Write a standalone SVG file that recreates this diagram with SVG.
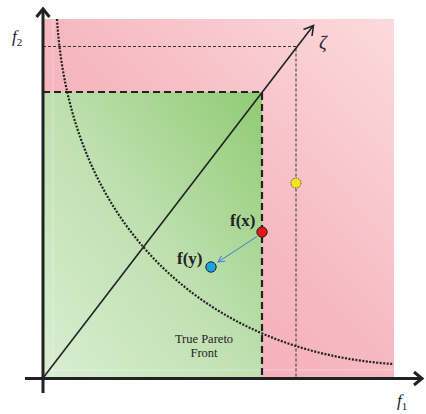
<svg xmlns="http://www.w3.org/2000/svg" width="426" height="414" viewBox="0 0 426 414">
<defs>
<linearGradient id="pink" x1="0" y1="1" x2="1" y2="0">
<stop offset="0" stop-color="#f4a6b0"/>
<stop offset="0.5" stop-color="#f6b8c0"/>
<stop offset="1" stop-color="#fbdadd"/>
</linearGradient>
<linearGradient id="green" x1="0" y1="1" x2="1" y2="0">
<stop offset="0" stop-color="#d8eed2"/>
<stop offset="0.5" stop-color="#bfe0b0"/>
<stop offset="1" stop-color="#90cb74"/>
</linearGradient>
<marker id="blueArrow" viewBox="0 0 10 10" refX="9" refY="5" markerWidth="8" markerHeight="8" orient="auto" markerUnits="userSpaceOnUse">
<path d="M1,1 L9,5 L1,9" fill="none" stroke="#3d7fd0" stroke-width="1.2"/>
</marker>
</defs>
<style>
.axis{stroke:#222;stroke-width:3;fill:none}
.head{stroke:#222;fill:none;stroke-linejoin:miter}
.bold-dash{stroke:#222;stroke-width:2.2;stroke-dasharray:7,4;fill:none}
.thin-dash{stroke:#333;stroke-width:1;stroke-dasharray:3,2;fill:none}
.lbl{font-family:"Liberation Serif",serif;fill:#222}
.pt{stroke:#222;stroke-width:1}
</style>
<g id="regions">
<rect x="43" y="19" width="351" height="359" fill="url(#pink)"/>
<rect x="43" y="92" width="219" height="286" fill="url(#green)"/>
<line x1="53" y1="19" x2="53" y2="378" stroke="#ffffff" stroke-opacity="0.35" stroke-width="1"/>
<line x1="43" y1="370" x2="394" y2="370" stroke="#ffffff" stroke-opacity="0.35" stroke-width="1"/>
</g>
<g id="connectors">
<path class="thin-dash" d="M43,46.5 H296 V378"/>
<path class="bold-dash" d="M43,92 H262 V378"/>
<path d="M57,19 C70,230 210,352 393,364" fill="none" stroke="#222" stroke-width="2.2" stroke-dasharray="2,1.5"/>
<line x1="43" y1="378" x2="313" y2="26" stroke="#222" stroke-width="1.6"/>
<path class="head" stroke-width="1.6" d="M303.5,29.5 L313.5,25.5 L312,36"/>
<line x1="257" y1="236.5" x2="218" y2="262" stroke="#3d7fd0" stroke-width="1" marker-end="url(#blueArrow)"/>
</g>
<g id="axes">
<line class="axis" x1="43" y1="393" x2="43" y2="10"/>
<path class="head" stroke-width="3" d="M36.5,17 L43,9 L49.5,17"/>
<line class="axis" x1="25" y1="378.5" x2="421" y2="378.5"/>
<path class="head" stroke-width="3" d="M414,372 L422,378.5 L414,385"/>
<text class="lbl" x="12" y="42" font-size="17" font-style="italic">f<tspan font-size="11" dy="4" font-style="normal">2</tspan></text>
<text class="lbl" x="397" y="406" font-size="17" font-style="italic">f<tspan font-size="11" dy="4" font-style="normal">1</tspan></text>
<text class="lbl" x="319" y="49" font-size="19" font-style="italic">ζ</text>
</g>
<g id="fx">
<circle class="pt" cx="262" cy="232" r="5.2" fill="#e8141c"/>
<text class="lbl" x="230" y="226" font-size="17" font-weight="bold">f(x)</text>
</g>
<g id="fy">
<circle class="pt" cx="211" cy="267" r="5.2" fill="#1ea3e0"/>
<text class="lbl" x="177" y="264" font-size="17" font-weight="bold">f(y)</text>
</g>
<g id="yellow">
<circle cx="296" cy="183" r="5" fill="#f6e41a" stroke="#333" stroke-width="0.8" stroke-dasharray="1.5,1"/>
</g>
<g id="pareto-label">
<text class="lbl" x="204" y="343" font-size="12.5" text-anchor="middle" fill="#333">True Pareto</text>
<text class="lbl" x="204" y="357" font-size="12.5" text-anchor="middle" fill="#333">Front</text>
</g>
</svg>
